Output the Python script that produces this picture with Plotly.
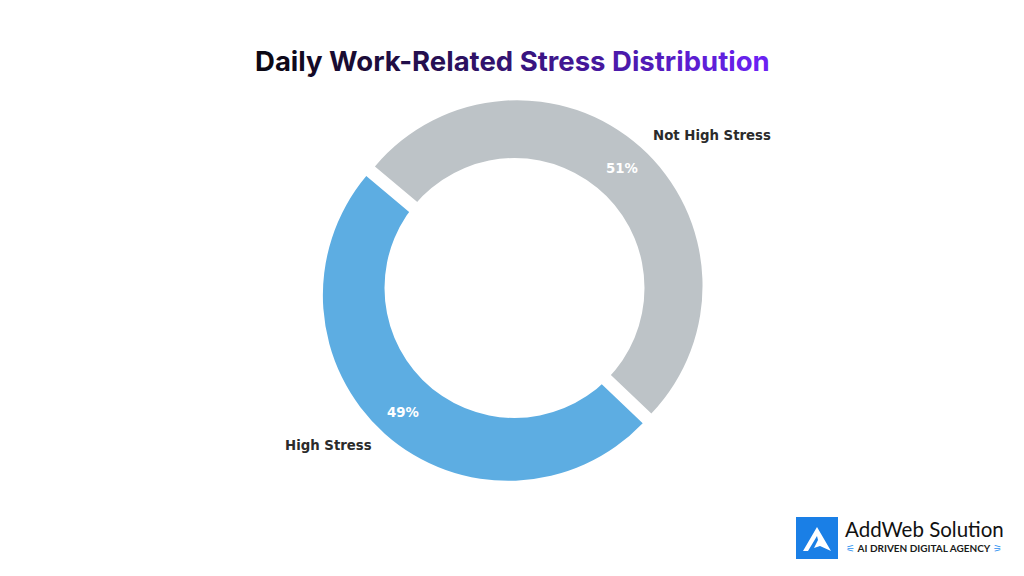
import math
import plotly.graph_objects as go

# ---- data ----
labels = ["High Stress", "Not High Stress"]
values = [49, 51]
colors = ["#5DADE2", "#BDC3C7"]
explode = [0.035, 0.035]
title_text = "Daily Work-Related Stress Distribution"
start_angle = 140  # degrees, math convention (counter-clockwise from 3 o'clock)

W, H = 1024, 576
cx_px, cy_px = 512.7, 290.5
R_px = 185.5
half = R_px * (1 + max(explode))

dom_x = [(cx_px - half) / W, (cx_px + half) / W]
dom_y = [(H - cy_px - half) / H, (H - cy_px + half) / H]

total = sum(values)
# plotly: with counterclockwise direction, 'rotation' is the clockwise-most edge of slice 0
rotation = 90 - start_angle - 360 * values[0] / total

fig = go.Figure(go.Pie(
    labels=labels,
    values=values,
    sort=False,
    direction="counterclockwise",
    rotation=rotation,
    pull=explode,
    marker=dict(colors=colors, line=dict(width=0)),
    textinfo="none",
    hoverinfo="label+percent",
    domain=dict(x=dom_x, y=dom_y),
    showlegend=False,
))

# labels & percentages placed from slice mid-angles
ang = start_angle
annotations = []
for lab, v, e in zip(labels, values, explode):
    span = 360 * v / total
    mid = math.radians(ang + span / 2)
    ang += span
    c, s = math.cos(mid), math.sin(mid)
    ox, oy = c * e * R_px, s * e * R_px
    rl = 1.12 * R_px
    lx = (cx_px + c * rl) / W
    ly = (H - cy_px + s * rl) / H
    annotations.append(dict(
        x=lx, y=ly, xref="paper", yref="paper", text=f"<b>{lab}</b>",
        showarrow=False, xanchor="left" if c > 0 else "right", yanchor="middle",
        font=dict(family="DejaVu Sans", size=13.3, color="#2b2b2b")))
    rp = 0.85 * R_px
    px = (cx_px + ox + c * rp) / W
    py = (H - cy_px + oy + s * rp) / H
    annotations.append(dict(
        x=px, y=py, xref="paper", yref="paper", text=f"<b>{round(100 * v / total)}%</b>",
        showarrow=False, xanchor="center", yanchor="middle",
        font=dict(family="DejaVu Sans", size=13.3, color="white")))

# gradient title
def lerp(a, b, t):
    return int(round(a + (b - a) * t))

c0 = (0x0c, 0x08, 0x14)
c1 = (0x6a, 0x22, 0xf2)
n = len(title_text)
parts = []
for i, ch in enumerate(title_text):
    t = (i / (n - 1)) ** 1.1
    col = "#%02x%02x%02x" % tuple(lerp(c0[k], c1[k], t) for k in range(3))
    parts.append(f"<span style='color:{col}'>{ch}</span>")
title_html = "<b>" + "".join(parts) + "</b>"

annotations.append(dict(
    x=0.5, y=1 - 61 / H, xref="paper", yref="paper", text=title_html,
    showarrow=False, xanchor="center", yanchor="middle",
    font=dict(family="Inter", size=27.5, color="#111")))

# logo
annotations.append(dict(
    x=843 / W, y=1 - 529 / H, xref="paper", yref="paper", text="AddWeb Solution",
    showarrow=False, xanchor="left", yanchor="middle",
    font=dict(family="Lato", size=20.5, color="#111")))
annotations.append(dict(
    x=844 / W, y=1 - 548 / H, xref="paper", yref="paper",
    text="<span style='color:#2a8ff0'>⚟</span> <b>AI DRIVEN DIGITAL AGENCY</b> <span style='color:#2a8ff0'>⚞</span>",
    showarrow=False, xanchor="left", yanchor="middle",
    font=dict(family="Lato", size=10, color="#1a1a1a")))

# centre hole (white circle, not exploded)
hole_cx, hole_cy, hole_r = 514.5, 288.0, 130.0

shapes = [
    dict(type="circle", xref="paper", yref="paper",
         x0=(hole_cx - hole_r) / W, x1=(hole_cx + hole_r) / W,
         y0=(H - hole_cy - hole_r) / H, y1=(H - hole_cy + hole_r) / H,
         fillcolor="white", line=dict(width=0), layer="above"),
    dict(type="rect", xref="paper", yref="paper",
         x0=796 / W, x1=838 / W, y0=1 - 559 / H, y1=1 - 517 / H,
         fillcolor="#1a7fe6", line=dict(width=0)),
    dict(type="path", xref="paper", yref="paper",
         path=" ".join([
             f"M {803/W} {1-551/H}",
             f"L {817/W} {1-527/H}",
             f"L {831/W} {1-551/H}",
             f"L {820/W} {1-546/H}",
             f"L {814/W} {1-548/H}",
             f"L {818/W} {1-540/H}",
             f"L {817/W} {1-536/H}",
             f"L {808/W} {1-551/H}",
             "Z"]),
         fillcolor="white", line=dict(width=0)),
]

fig.update_layout(
    width=W, height=H,
    margin=dict(l=0, r=0, t=0, b=0),
    paper_bgcolor="white", plot_bgcolor="white",
    annotations=annotations, shapes=shapes,
)

fig.write_html("out.html", config={"displayModeBar": False},
               post_script="document.body.style.margin='0';")
